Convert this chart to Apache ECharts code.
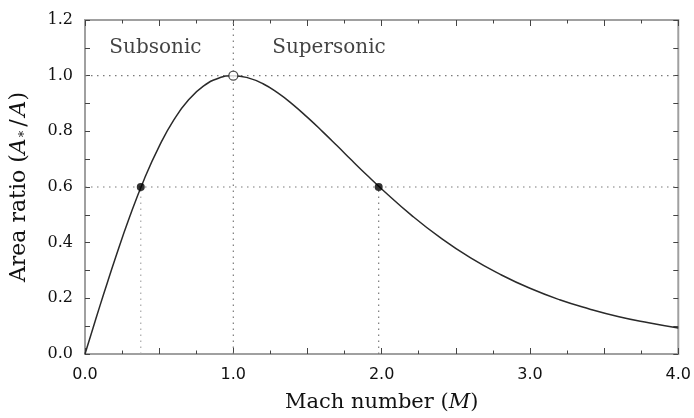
<!DOCTYPE html>
<html>
<head>
<meta charset="utf-8">
<script src="https://cdn.jsdelivr.net/npm/echarts@6/dist/echarts.min.js"></script>
<style>html,body{margin:0;padding:0;background:#fff;}#c{width:694px;height:418px;}</style>
</head>
<body>
<div id="c"></div>
<script>
var machValues = [0, 0.05, 0.1, 0.15, 0.2, 0.3, 0.4, 0.5, 0.6, 0.7, 0.8, 0.9, 1.0, 1.1, 1.2, 1.3, 1.4, 1.5, 1.6, 1.7, 1.8, 1.9, 2.0, 2.2, 2.4, 2.6, 2.8, 3.0, 3.2, 3.4, 3.6, 3.8, 4.0];
var areaRatio  = [0, 0.086, 0.172, 0.255, 0.337, 0.491, 0.629, 0.746, 0.842, 0.914, 0.963, 0.991, 1.0, 0.992, 0.971, 0.938, 0.897, 0.850, 0.800, 0.748, 0.695, 0.643, 0.593, 0.499, 0.416, 0.345, 0.286, 0.236, 0.195, 0.162, 0.134, 0.112, 0.093];
// highlighted points
var filledPoints = [[0.376, 0.6], [1.98, 0.6]];
var openPoint = [[1.0, 1.0]];
// guide lines
var guideH10 = [[0, 1.0], [4, 1.0]];
var guideH06 = [[0, 0.6], [4, 0.6]];
var guideV10 = [[1.0, 0], [1.0, 1.2]];
var guideVsub = [[0.376, 0], [0.376, 0.6]];
var guideVsup = [[1.98, 0], [1.98, 0.6]];
// region labels
var regionLabels = [[0.475, 1.1, 'Subsonic'], [1.645, 1.1, 'Supersonic']];

var serif = 'DejaVu Serif';
var txt = '#111';
var chart = echarts.init(document.getElementById('c'));
var dotStyle = {color: '#7a7a7a', width: 1.2, type: [1.5, 4.5]};
function guide(d, c) {
  return {type: 'line', data: d, symbol: 'none', silent: true, z: 1,
    lineStyle: Object.assign({}, dotStyle, c ? {color: c} : {})};
}
var tickStyle = {color: '#444', width: 1};
function frameAxis(extra) {
  return Object.assign({
    axisLine: {show: false, onZero: false},
    axisTick: {show: true, inside: true, length: 5, lineStyle: tickStyle},
    minorTick: {show: false},
    splitLine: {show: false}
  }, extra);
}
var xMinor = {show: true, splitNumber: 2, length: 3.5, lineStyle: tickStyle};
function xFmt(v) { var q = Math.round(v * 2); return q % 2 === 0 ? (q / 2).toFixed(1) : ''; }
function yFmt(v) { var q = Math.round(v * 10); return q % 2 === 0 ? (q / 10).toFixed(1) : ''; }
chart.setOption({
  animation: false,
  grid: {left: 85, right: 11, top: 20, bottom: 62, show: true, borderColor: '#a0a0a0', borderWidth: 2, backgroundColor: 'transparent'},
  xAxis: [frameAxis({
    type: 'value', min: 0, max: 4, interval: 0.5, minorTick: xMinor,
    axisTick: {show: true, inside: true, length: 6, lineStyle: tickStyle},
    axisLabel: {fontFamily: 'DejaVu Sans', fontSize: 16, color: txt, margin: 13, formatter: xFmt},
    name: '{n|Mach number (}{i|M}{n|)}', nameLocation: 'middle', nameGap: 38,
    nameTextStyle: {rich: {n: {fontFamily: serif, fontSize: 21, color: txt},
      i: {fontFamily: serif, fontStyle: 'italic', fontSize: 21, color: txt}}}
  }), frameAxis({
    type: 'value', min: 0, max: 4, interval: 0.5, position: 'top', minorTick: xMinor,
    axisTick: {show: true, inside: true, length: 6, lineStyle: tickStyle},
    axisLabel: {show: false}
  })],
  yAxis: [frameAxis({
    type: 'value', min: 0, max: 1.2, interval: 0.1,
    axisLabel: {fontFamily: serif, fontSize: 16, color: txt, margin: 12, formatter: yFmt},
    name: '{n|Area ratio (}{i|A}{s|*}{sl|/}{i|A}{n|)}', nameLocation: 'middle', nameGap: 54, nameRotate: 90,
    nameTextStyle: {rich: {n: {fontFamily: serif, fontSize: 22, color: txt},
      i: {fontFamily: serif, fontStyle: 'italic', fontSize: 22, color: txt},
      sl: {fontFamily: serif, fontSize: 22, color: txt, padding: [0, 3, 0, 3]},
      s: {fontFamily: serif, fontSize: 13, color: txt, padding: [10, 1, 0, 1]}}}
  }), frameAxis({
    type: 'value', min: 0, max: 1.2, interval: 0.1, position: 'right',
    axisLabel: {show: false}
  })],
  series: [
    guide(guideH10), guide(guideH06), guide(guideV10),
    guide(guideVsub, '#a8a8a8'), guide(guideVsup),
    {type: 'line', data: machValues.map(function (m, i) { return [m, areaRatio[i]]; }),
      smooth: true, symbol: 'none', z: 3, lineStyle: {color: '#2a2a2a', width: 1.5}},
    {type: 'scatter', data: filledPoints, symbol: 'circle', symbolSize: 8, z: 5,
      itemStyle: {color: '#000'}},
    {type: 'scatter', data: openPoint, symbol: 'circle', symbolSize: 9, z: 5,
      itemStyle: {color: '#fff', borderColor: '#222', borderWidth: 1.3}},
    {type: 'scatter', data: regionLabels, symbolSize: 0, silent: true,
      label: {show: true, position: 'inside', formatter: function (p) { return p.data[2]; },
        fontFamily: serif, fontSize: 20, color: txt}}
  ]
});
</script>
</body>
</html>
